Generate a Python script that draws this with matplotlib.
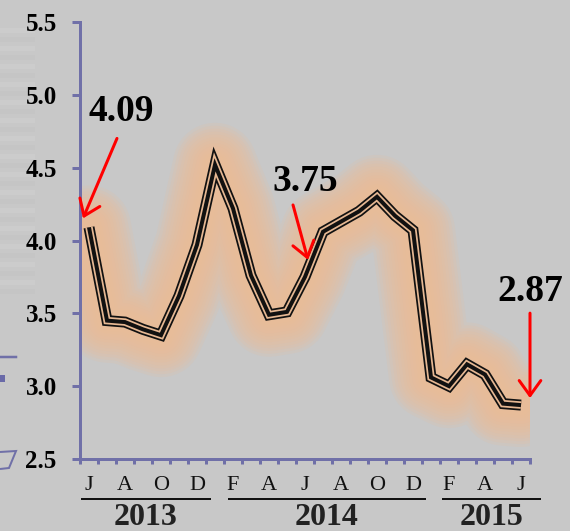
import numpy as np
import matplotlib
matplotlib.use("Agg")
import matplotlib.pyplot as plt
from matplotlib.patches import Rectangle, Polygon
from matplotlib.lines import Line2D
from matplotlib.transforms import offset_copy, blended_transform_factory

# ---- data ----
# Jun 2013 .. Jun 2015 (25 months)
month_letters = ['J', 'J', 'A', 'S', 'O', 'N', 'D',
                 'J', 'F', 'M', 'A', 'M', 'J', 'J', 'A', 'S', 'O', 'N', 'D',
                 'J', 'F', 'M', 'A', 'M', 'J']
years = ['2013', '2014', '2015']
values = [4.09, 3.45, 3.44, 3.39, 3.35, 3.62, 3.97,
          4.52, 4.22, 3.76, 3.49, 3.51, 3.75, 4.06, 4.13, 4.20, 4.30, 4.17, 4.07,
          3.06, 3.00, 3.15, 3.08, 2.88, 2.87]
annotated_idx = [0, 12, 24]
annotated_txt = ['4.09', '3.75', '2.87']
yticks = [2.5, 3.0, 3.5, 4.0, 4.5, 5.0, 5.5]

# ---- style ----
BG = '#c8c8c8'
AXC = '#7070a8'
PX = 0.72  # points per pixel at dpi 100
W, H = 570, 531
plt.rcParams['font.family'] = ['Liberation Serif', 'DejaVu Serif']

fig = plt.figure(figsize=(5.7, 5.31), dpi=100, facecolor=BG)

# faint slide remnants on the left edge (decoration, behind everything)
for k, yy in enumerate(range(28, 296, 9)):
    shade = '#cfcfcf' if k % 2 == 0 else '#c3c3c3'
    fig.patches.append(Rectangle((0, 1 - (yy + 5) / H), 35 / W, 5 / H,
                                 transform=fig.transFigure, facecolor=shade,
                                 edgecolor='none', alpha=0.6, zorder=-5))
fig.lines.append(Line2D([0, 16 / W], [1 - 357 / H, 1 - 357 / H], transform=fig.transFigure,
                        color=AXC, lw=2.5 * PX, zorder=-5))
fig.patches.append(Rectangle((0, 1 - 382 / H), 5 / W, 7 / H, transform=fig.transFigure,
                             facecolor='#6a6aa8', edgecolor='none', zorder=-5))
fig.patches.append(Polygon([(0, 1 - 452 / H), (16 / W, 1 - 451 / H), (9 / W, 1 - 468 / H),
                            (0, 1 - 469 / H)], closed=False, transform=fig.transFigure,
                           facecolor='none', edgecolor=AXC, lw=2 * PX, zorder=-5))

ax = fig.add_axes([80 / W, 72 / H, 450 / W, 437 / H])
ax.set_facecolor('none')
n = len(values)
x = np.arange(n)
ax.set_xlim(-0.5, n - 0.5)
ax.set_ylim(2.5, 5.5)

# glow
for w in np.linspace(84, 20, 12):
    ax.plot(x, values, color='#f1bc93', lw=w * PX, alpha=0.14,
            solid_joinstyle='round', solid_capstyle='round', zorder=1)

# compound line
ax.plot(x, values, color='#111111', lw=11 * PX, solid_joinstyle='miter', solid_capstyle='butt', zorder=3)
ax.plot(x, values, color='#e6b893', lw=7.5 * PX, solid_joinstyle='miter', solid_capstyle='butt', zorder=4)
ax.plot(x, values, color='#111111', lw=4 * PX, solid_joinstyle='miter', solid_capstyle='butt', zorder=5)

# spines
for s in ['top', 'right']:
    ax.spines[s].set_visible(False)
for s in ['left', 'bottom']:
    ax.spines[s].set_color(AXC)
    ax.spines[s].set_linewidth(3 * PX)

ax.set_yticks(yticks)
ax.set_yticklabels([f'{v:.1f}' for v in yticks], fontsize=18, fontweight='bold')
ax.tick_params(axis='y', direction='out', length=8 * PX, width=3 * PX, color=AXC, pad=11)
ax.set_xticks(np.arange(-0.5, n, 1.0))
ax.set_xticklabels([])
ax.tick_params(axis='x', direction='out', length=5 * PX, width=3 * PX, color=AXC)

trans = blended_transform_factory(ax.transData, ax.transAxes)
for i in range(0, n, 2):
    ax.text(i, -0.0595, month_letters[i], transform=trans, ha='center', va='center',
            fontsize=16, color='#111111')

# year group underline spans (data x, layout only)
year_spans = [(-0.39, 6.72), (7.78, 18.67), (19.67, 25.06)]
for yr, (x0, x1) in zip(years, year_spans):
    ax.plot([x0, x1], [-0.0915, -0.0915], transform=trans, color='#111111', lw=2 * PX, clip_on=False)
    ax.text((x0 + x1) / 2, -0.133, yr, transform=trans, ha='center', va='center',
            fontsize=23, fontweight='bold', color='#222222')

# annotations (offsets in pixels: text, arrow tail, arrow tip)
offsets = {0: ((32, 116), (28, 89), (-6, 9)),
           12: ((0, 95), (-12, 72), (3, 17)),
           24: ((9, 114), (9, 92), (9, 7))}
for idx, txt in zip(annotated_idx, annotated_txt):
    (tx, ty), (ax_, ay), (hx, hy) = offsets[idx]
    ax.annotate(txt, xy=(idx, values[idx]), xytext=(tx, ty), textcoords='offset pixels',
                ha='center', va='center', fontsize=27, fontweight='bold', color='black',
                annotation_clip=False, zorder=10)
    tip_tr = offset_copy(ax.transData, fig=fig, x=hx, y=hy, units='dots')
    tail_tr = offset_copy(ax.transData, fig=fig, x=ax_, y=ay, units='dots')
    ax.annotate('', xy=(idx, values[idx]), xycoords=tip_tr,
                xytext=(idx, values[idx]), textcoords=tail_tr,
                arrowprops=dict(arrowstyle='->, head_length=0.36, head_width=0.26',
                                color='#ff0000', lw=3 * PX, mutation_scale=30,
                                shrinkA=0, shrinkB=0),
                annotation_clip=False, zorder=11)

fig.savefig('out.png', dpi=100, facecolor=BG)
